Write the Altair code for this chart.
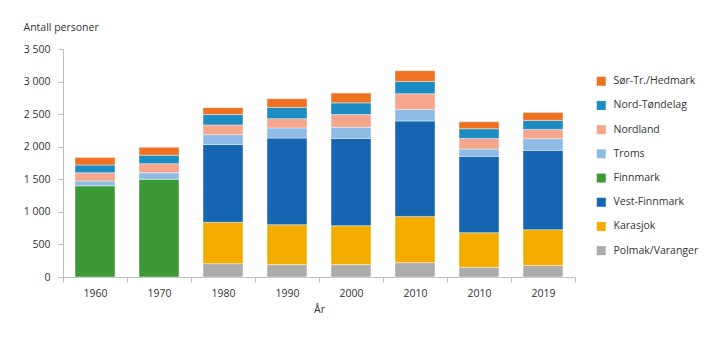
import altair as alt
import pandas as pd

years = ["1960", "1970", "1980", "1990", "2000", "2010", "2010", "2019"]
series = ["Sør-Tr./Hedmark", "Nord-Tøndelag", "Nordland", "Troms",
          "Finnmark", "Vest-Finnmark", "Karasjok", "Polmak/Varanger"]
colors = ["#ef7122", "#1e8cc4", "#f5a68c", "#8cbbe5",
          "#3c9a36", "#1565b0", "#f3ad00", "#acacac"]

polmak = [0, 0, 205, 190, 190, 220, 148, 178]
karasjok = [0, 0, 635, 613, 598, 710, 532, 548]
vest_finnmark = [0, 0, 1195, 1330, 1340, 1465, 1172, 1218]
finnmark = [1400, 1500, 0, 0, 0, 0, 0, 0]
troms = [75, 100, 150, 155, 170, 178, 113, 179]
nordland = [125, 140, 150, 143, 195, 240, 163, 143]
nord_trondelag = [120, 130, 158, 174, 180, 190, 148, 138]
sor_tr = [115, 120, 107, 133, 150, 165, 107, 123]

stack = [
    ("Polmak/Varanger", polmak),
    ("Karasjok", karasjok),
    ("Vest-Finnmark", vest_finnmark),
    ("Finnmark", finnmark),
    ("Troms", troms),
    ("Nordland", nordland),
    ("Nord-Tøndelag", nord_trondelag),
    ("Sør-Tr./Hedmark", sor_tr),
]

keys = [f"{y}_{i}" for i, y in enumerate(years)]
rows = []
for rank, (name, vals) in enumerate(stack):
    for k, v in zip(keys, vals):
        if v > 0:
            rows.append({"key": k, "series": name, "value": v, "rank": rank})
df = pd.DataFrame(rows)

FONT = "Open Sans"
FS = 10.5
AX = "#bdbdbd"
TXT = "#333333"

chart = alt.Chart(df).mark_bar(
    width=alt.RelativeBandSize(0.625), stroke="white", strokeWidth=0.6, strokeOpacity=0.7
).encode(
    x=alt.X("key:N", sort=keys,
            scale=alt.Scale(paddingInner=0, paddingOuter=0),
            axis=alt.Axis(title="År", labelExpr="split(datum.label, '_')[0]",
                          labelAngle=0, tickBand="extent", domainColor=AX,
                          tickColor=AX, tickSize=5, labelPadding=6,
                          labelFontSize=FS, labelColor=TXT, labelFont=FONT,
                          titleFont=FONT, titleFontSize=FS, titleFontWeight="normal",
                          titleColor=TXT, titlePadding=6)),
    y=alt.Y("value:Q", stack="zero",
            scale=alt.Scale(domain=[0, 3500], nice=False),
            axis=alt.Axis(values=list(range(0, 3501, 500)),
                          labelExpr="replace(format(datum.value, ',d'), ',', ' ')",
                          title="Antall personer", titleAngle=0, titleX=-40, titleY=-22,
                          titleAlign="left", titleBaseline="middle",
                          titleFont=FONT, titleFontSize=FS, titleFontWeight="normal",
                          titleColor=TXT, grid=False, domainColor=AX, tickColor=AX,
                          tickSize=5, labelPadding=8, labelFontSize=FS,
                          labelColor=TXT, labelFont=FONT)),
    color=alt.Color("series:N", scale=alt.Scale(domain=series, range=colors),
                    legend=alt.Legend(title=None, orient="none", legendX=533, legendY=27,
                                      symbolType="square", symbolSize=81,
                                      symbolStrokeWidth=0, labelFont=FONT,
                                      labelFontSize=FS, labelColor=TXT,
                                      labelOffset=7, rowPadding=13.2, padding=0)),
    order=alt.Order("rank:Q", sort="ascending"),
).properties(
    width=512, height=228,
    autosize=alt.AutoSizeParams(type="none"),
    padding={"left": 63, "top": 49, "right": 145, "bottom": 64},
).configure_view(stroke=None)

chart.save("out.html", embed_options={"renderer": "svg", "actions": False})
